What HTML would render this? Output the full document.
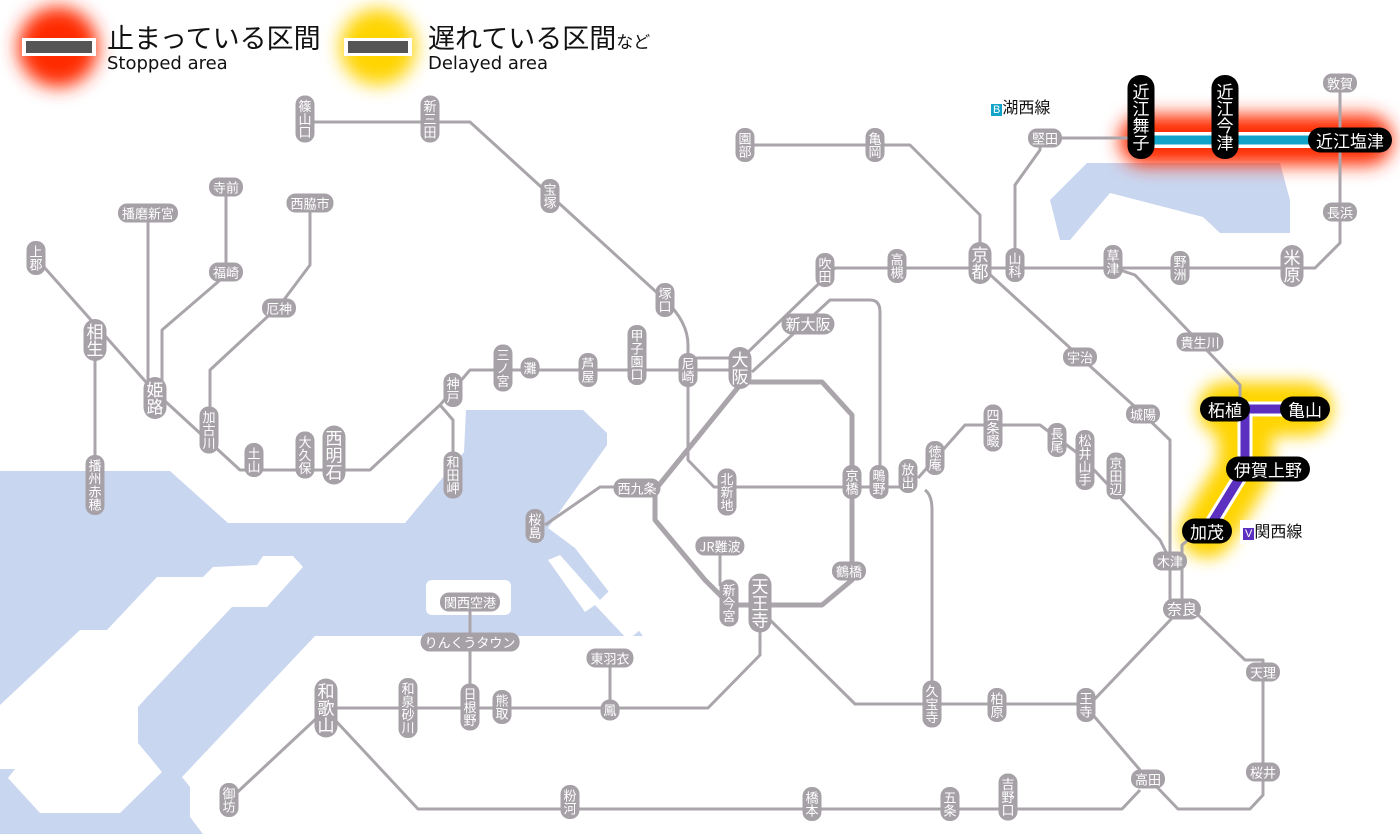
<!DOCTYPE html>
<html><head><meta charset="utf-8">
<style>
html,body{margin:0;padding:0;background:#fff;}
#w{position:relative;width:1400px;height:834px;overflow:hidden;font-family:"Liberation Sans","Noto Sans CJK JP",sans-serif;}
svg{position:absolute;left:0;top:0;}
.s{position:absolute;transform:translate(-50%,-50%);background:#a6a1a7;color:#fff;font-size:13px;line-height:1;border-radius:9px;padding:3px 4px;white-space:nowrap;font-family:"Noto Sans CJK JP",sans-serif;}
.v{writing-mode:vertical-rl;padding:4px 3px;letter-spacing:0;}
.L{font-size:17px;border-radius:12px;}
.b{background:#000;font-size:17px;border-radius:13px;padding:4px 8px;}
.b.v{padding:8px 5px;}
.t{position:absolute;font-family:"Liberation Sans","Noto Sans CJK JP",sans-serif;color:#111;}
</style></head><body><div id="w">
<svg width="1400" height="834" viewBox="0 0 1400 834">
<defs>
<filter id="bl" x="-50%" y="-50%" width="200%" height="200%"><feGaussianBlur stdDeviation="9"/></filter>
<filter id="bl2" x="-50%" y="-50%" width="200%" height="200%"><feGaussianBlur stdDeviation="8"/></filter>
</defs>
<!-- water -->
<g fill="#c9d6ef">
<path d="M0,471 H170 L228,523 H405 L464,452 L466,410 H583 L607,433 V445 L548,528 L575,548 L643,636 H315 L182,777 L190,787 V817 L203,834 H0 Z"/>
<path d="M1087,163 H1280 L1290,200 V233 H1220 L1203,217 L1110,193 L1070,240 H1060 L1050,200 Z"/>
</g>
<g fill="#fff">
<path d="M263,556 H293 L303,567 L267,607 H232 L147,697 L138,707 V743 L162,772 L120,813 H40 L8,778 L15,769 H0 V705 L80,630 H107 L157,577 H203 L213,567 L257,565 Z"/>
<rect x="426" y="580" width="85" height="35" rx="6"/>
<path d="M548,560 L560,555 L600,600 L610,590 L640,630 L628,640 L595,605 L585,612 Z"/>
</g>
<!-- glows -->
<circle cx="58" cy="47" r="40" fill="#ff2a00" filter="url(#bl)"/>
<circle cx="378" cy="47" r="38" fill="#ffd400" filter="url(#bl)"/>
<rect x="1120" y="115" width="272" height="50" rx="24" fill="#ff2a00" filter="url(#bl)"/>
<path d="M1225,409 H1305 M1245,409 V469 L1207,531" stroke="#ffd400" stroke-width="54" fill="none" stroke-linecap="round" stroke-linejoin="round" filter="url(#bl2)"/>
<!-- legend bars -->
<rect x="22" y="38" width="74" height="18" fill="#fff"/><rect x="26" y="41" width="66" height="12" fill="#555"/>
<rect x="344" y="38" width="68" height="18" fill="#fff"/><rect x="348" y="41" width="60" height="12" fill="#555"/>
<!-- lines -->
<g stroke="#aaa5ab" stroke-width="3" fill="none" stroke-linejoin="round">
<path d="M305,122 H470 L550,195 L665,300 Q688,322 688,345 V460 L714,487 H910"/>
<path d="M36,258 L153,390 L240,470 H370 L440,405 L470,370 H740"/>
<path d="M688,358 H740"/>
<path d="M745,355 L835,268 H1315 L1340,243 V83"/>
<path d="M752,372 L830,300 H870 Q880,300 880,312 V487"/>
<path d="M148,213 V390"/>
<path d="M226,187 V275 L162,330 V385"/>
<path d="M310,203 V265 L280,305 L210,370 V430"/>
<path d="M95,340 V483"/>
<path d="M440,405 L453,420 V465"/>
<path d="M637,487 H600 L545,525"/>
<path d="M720,545 V585 L735,600"/>
<path d="M760,605 V655 L708,708 H325"/>
<path d="M470,601 V700"/>
<path d="M610,657 V708"/>
<path d="M320,715 L229,800"/>
<path d="M335,720 L418,809 H1122 L1140,790"/>
<path d="M765,615 L855,704 H1090 L1175,615"/>
<path d="M1093,715 L1140,770"/>
<path d="M1195,612 L1245,660 H1263 V795 L1250,809 H1178 L1155,785"/>
<path d="M985,270 L1080,357 L1143,414 L1170,440 V608"/>
<path d="M1182,560 V608"/>
<path d="M918,478 L965,425 H1040 L1080,455 L1160,540 L1170,560"/>
<path d="M925,490 Q932,495 932,510 V700"/>
<path d="M1120,270 L1135,275 L1240,385 V409"/>
<path d="M1015,265 V185 L1040,150 V138 H1140"/>
<path d="M980,250 V215 L910,145 H745"/>
<path d="M1182,560 V545 L1200,530"/>
</g>
<path d="M740,382 H822 L852,415 V580 L822,605 H730 L705,580 L655,520 V490 L740,385" stroke="#aaa5ab" stroke-width="5" fill="none" stroke-linejoin="round"/>
<!-- colored lines -->
<path d="M1140,140 H1350" stroke="#fff" stroke-width="16"/>
<path d="M1140,140 H1350" stroke="#12a4c8" stroke-width="9"/>
<path d="M1225,409 H1305 M1245,409 V469 L1207,531" stroke="#fff" stroke-width="15" fill="none" stroke-linejoin="round"/>
<path d="M1225,409 H1305 M1245,409 V469 L1207,531" stroke="#5b2fbf" stroke-width="9" fill="none" stroke-linejoin="round"/>
</svg>

<div class="t" style="left:107px;top:23px;font-size:27px;font-family:'Noto Sans CJK JP',sans-serif;line-height:1">止まっている区間</div>
<div class="t" style="left:107px;top:55px;font-size:18px;line-height:1;font-family:'DejaVu Sans',sans-serif">Stopped area</div>
<div class="t" style="left:428px;top:23px;font-size:27px;font-family:'Noto Sans CJK JP',sans-serif;line-height:1">遅れている区間<span style="font-size:17px">など</span></div>
<div class="t" style="left:428px;top:55px;font-size:18px;line-height:1;font-family:'DejaVu Sans',sans-serif">Delayed area</div>

<div class="t" style="left:988px;top:96px;font-size:16px;line-height:20px;background:#fff;padding:0 3px;font-family:'Noto Sans CJK JP',sans-serif"><span style="background:#12a4c8;color:#fff;font-size:11px;padding:0 2px;font-family:'Liberation Sans'">B</span>湖西線</div>
<div class="t" style="left:1240px;top:520px;font-size:16px;line-height:20px;background:#fff;padding:0 3px;font-family:'Noto Sans CJK JP',sans-serif"><span style="background:#5b2fbf;color:#fff;font-size:11px;padding:0 2px;font-family:'Liberation Sans'">V</span>関西線</div>

<!-- vertical stations -->
<div class="s v" style="left:305px;top:119px">篠山口</div>
<div class="s v" style="left:430px;top:119px">新三田</div>
<div class="s v" style="left:550px;top:196px">宝塚</div>
<div class="s v" style="left:745px;top:145px">園部</div>
<div class="s v" style="left:875px;top:145px">亀岡</div>
<div class="s v" style="left:36px;top:258px">上郡</div>
<div class="s v L" style="left:95px;top:340px">相生</div>
<div class="s v L" style="left:155px;top:398px">姫路</div>
<div class="s v" style="left:209px;top:430px">加古川</div>
<div class="s v" style="left:254px;top:460px">土山</div>
<div class="s v" style="left:305px;top:455px">大久保</div>
<div class="s v L" style="left:334px;top:455px">西明石</div>
<div class="s v" style="left:95px;top:485px">播州赤穂</div>
<div class="s v" style="left:453px;top:390px">神戸</div>
<div class="s v" style="left:453px;top:475px">和田岬</div>
<div class="s v" style="left:503px;top:368px">三ノ宮</div>
<div class="s v" style="left:530px;top:368px">灘</div>
<div class="s v" style="left:588px;top:370px">芦屋</div>
<div class="s v" style="left:637px;top:355px">甲子園口</div>
<div class="s v" style="left:688px;top:370px">尼崎</div>
<div class="s v L" style="left:740px;top:368px">大阪</div>
<div class="s v" style="left:665px;top:300px">塚口</div>
<div class="s v" style="left:825px;top:270px">吹田</div>
<div class="s v" style="left:897px;top:266px">高槻</div>
<div class="s v L" style="left:980px;top:263px">京都</div>
<div class="s v" style="left:1015px;top:265px">山科</div>
<div class="s v" style="left:1113px;top:262px">草津</div>
<div class="s v" style="left:1180px;top:268px">野洲</div>
<div class="s v L" style="left:1292px;top:266px">米原</div>
<div class="s v" style="left:727px;top:492px">北新地</div>
<div class="s v" style="left:852px;top:482px">京橋</div>
<div class="s v" style="left:879px;top:482px">鴫野</div>
<div class="s v" style="left:908px;top:476px">放出</div>
<div class="s v" style="left:935px;top:458px">徳庵</div>
<div class="s v" style="left:993px;top:428px">四条畷</div>
<div class="s v" style="left:1057px;top:440px">長尾</div>
<div class="s v" style="left:1085px;top:460px">松井山手</div>
<div class="s v" style="left:1116px;top:476px">京田辺</div>
<div class="s v" style="left:535px;top:526px">桜島</div>
<div class="s v" style="left:729px;top:603px">新今宮</div>
<div class="s v L" style="left:760px;top:603px">天王寺</div>
<div class="s v" style="left:408px;top:708px">和泉砂川</div>
<div class="s v" style="left:470px;top:707px">日根野</div>
<div class="s v" style="left:502px;top:707px">熊取</div>
<div class="s v" style="left:610px;top:710px">鳳</div>
<div class="s v L" style="left:326px;top:708px">和歌山</div>
<div class="s v" style="left:229px;top:800px">御坊</div>
<div class="s v" style="left:570px;top:802px">粉河</div>
<div class="s v" style="left:812px;top:804px">橋本</div>
<div class="s v" style="left:950px;top:804px">五条</div>
<div class="s v" style="left:1008px;top:797px">吉野口</div>
<div class="s v" style="left:932px;top:704px">久宝寺</div>
<div class="s v" style="left:997px;top:705px">柏原</div>
<div class="s v" style="left:1086px;top:705px">王寺</div>

<!-- horizontal stations -->
<div class="s" style="left:226px;top:187px">寺前</div>
<div class="s" style="left:148px;top:213px">播磨新宮</div>
<div class="s" style="left:310px;top:203px">西脇市</div>
<div class="s" style="left:226px;top:272px">福崎</div>
<div class="s" style="left:279px;top:308px">厄神</div>
<div class="s L" style="left:808px;top:324px;font-size:15px">新大阪</div>
<div class="s" style="left:637px;top:488px">西九条</div>
<div class="s" style="left:720px;top:546px">JR難波</div>
<div class="s" style="left:470px;top:602px">関西空港</div>
<div class="s" style="left:470px;top:642px">りんくうタウン</div>
<div class="s" style="left:610px;top:658px">東羽衣</div>
<div class="s" style="left:849px;top:571px">鶴橋</div>
<div class="s" style="left:1080px;top:357px">宇治</div>
<div class="s" style="left:1143px;top:414px">城陽</div>
<div class="s" style="left:1170px;top:561px">木津</div>
<div class="s L" style="left:1182px;top:609px;font-size:15px">奈良</div>
<div class="s" style="left:1263px;top:672px">天理</div>
<div class="s" style="left:1148px;top:779px">高田</div>
<div class="s" style="left:1263px;top:772px">桜井</div>
<div class="s" style="left:1045px;top:138px">堅田</div>
<div class="s" style="left:1340px;top:83px">敦賀</div>
<div class="s" style="left:1340px;top:212px">長浜</div>
<div class="s" style="left:1200px;top:342px">貴生川</div>

<!-- black stations -->
<div class="s b v" style="left:1141px;top:117px">近江舞子</div>
<div class="s b v" style="left:1225px;top:117px">近江今津</div>
<div class="s b" style="left:1350px;top:140px">近江塩津</div>
<div class="s b" style="left:1225px;top:409px">柘植</div>
<div class="s b" style="left:1305px;top:409px">亀山</div>
<div class="s b" style="left:1268px;top:469px">伊賀上野</div>
<div class="s b" style="left:1207px;top:531px">加茂</div>
</div></body></html>
